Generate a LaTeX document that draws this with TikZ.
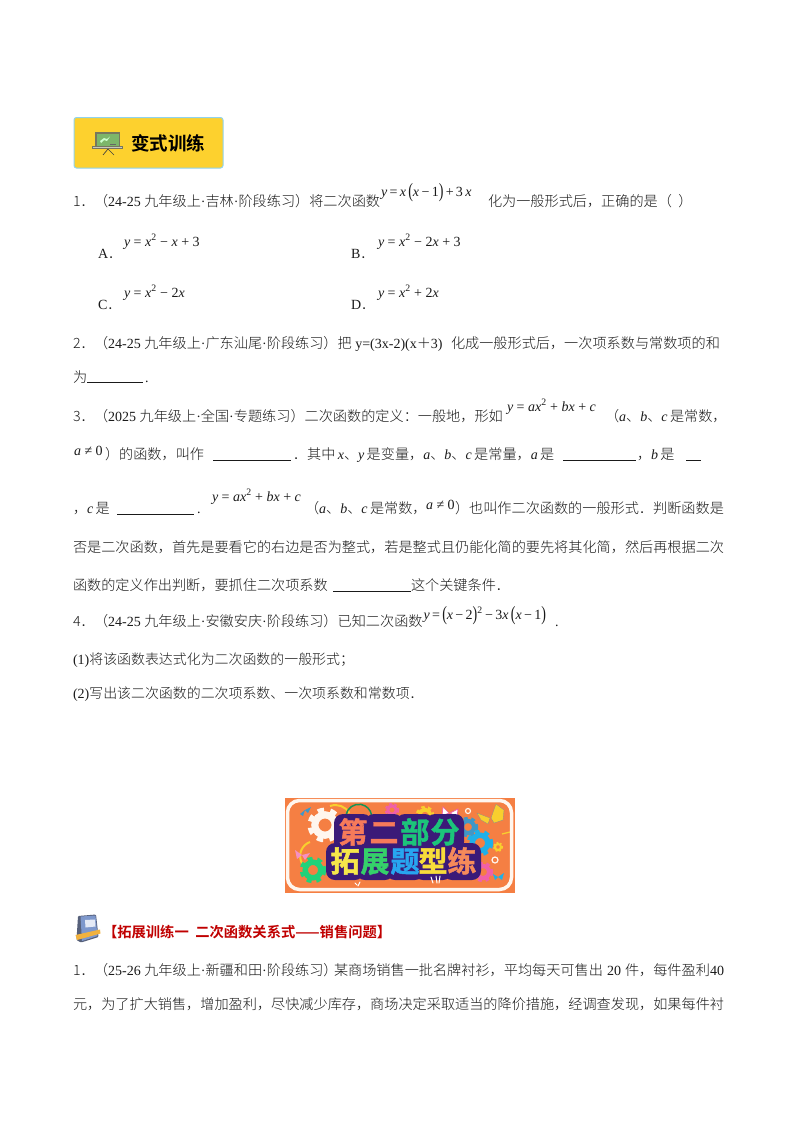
\documentclass[tikz,border=0pt]{standalone}
\usepackage{fontspec}
\setmainfont{Liberation Serif}
\newfontfamily\cjkf[Scale=1.011]{Noto Sans CJK SC Light}
\newfontfamily\cjkn[Scale=0.995]{Noto Sans CJK SC Light}
\newfontfamily\cjkb{Noto Sans CJK SC Bold}
\newfontfamily\cjkbb[FakeBold=1.6]{Noto Sans CJK SC Bold}
\newcommand{\cj}[1]{{\cjkf #1}}
\newcommand{\cn}[1]{{\cjkn #1}}
\newcommand{\vi}[1]{\textit{#1}}
\newcommand{\bigp}[1]{\raisebox{-1pt}{\scalebox{1}[1.45]{#1}}}
\definecolor{ink}{HTML}{1A1A1A}
\definecolor{headred}{HTML}{C00000}
\definecolor{bannerorange}{HTML}{F57F43}
\definecolor{bannerpurple}{HTML}{3B1A78}
\definecolor{badgeyellow}{HTML}{FDD12E}
\definecolor{badgeedge}{HTML}{8FD3EE}
\definecolor{gearwhite}{HTML}{FFF6EE}
\definecolor{geargreen}{HTML}{21D27A}
\definecolor{gearmag}{HTML}{F060A8}
\definecolor{gearyel}{HTML}{F8CF2E}
\definecolor{gearblue}{HTML}{1FB0E8}
\definecolor{gearslate}{HTML}{3F97C8}
\definecolor{bookblue}{HTML}{7E98CC}
\definecolor{bookdark}{HTML}{56607A}
\definecolor{bookband}{HTML}{F2B23E}
\definecolor{boardgreen}{HTML}{7DB66A}
\definecolor{boardedge}{HTML}{77775E}
\newcounter{tn}
\tikzset{
  txt/.style={anchor=base west,inner sep=0pt,outer sep=0pt,text=ink,font=\fontsize{14}{14}\selectfont},
  fml/.style={txt},
  gap/.style={draw=ink,line width=0.9pt},
  bannertxt/.style={inner sep=0pt,anchor=base,font=\cjkbb\fontsize{29}{29}\selectfont},
  blob/.style={fill=bannerpurple,rounded corners=9pt},
}
\newcommand{\T}[3]{\stepcounter{tn}\node[txt] (t\arabic{tn}) at (#1,#2) {#3};}
\newcommand{\F}[3]{\stepcounter{tn}\node[fml] (t\arabic{tn}) at (#1,#2) {#3};}
\newcommand{\U}[3]{\draw[gap] (#1,#3) -- (#2,#3);}
\newcommand{\B}[2]{\fill[blob] (#1-19,#2-29) rectangle (#1+19,#2+8);}
\newcommand{\C}[4]{\stepcounter{tn}\node[bannertxt,text=#3] (t\arabic{tn}) at (#1,#2) {#4};}
\newcommand{\gear}[4]{%
  \draw[#4,line width=0.42*#3pt] (#1,#2) circle (0.6*#3);
  \draw[#4,line width=0.25*#3pt,dash pattern=on 0.38*#3pt off 0.38*#3pt] (#1,#2) circle (0.9*#3);
}
\begin{document}
\begin{tikzpicture}[x=1pt,y=-1pt]
\useasboundingbox (0,0) rectangle (800,1132);
\fill[white] (0,0) rectangle (800,1132);

% header badge
\draw[draw=badgeedge,fill=badgeyellow,line width=1pt,rounded corners=2.5pt] (74,117.5) rectangle (223,168);
\fill[boardedge] (95,132) rectangle (120,147);
\fill[boardgreen] (96.5,133.5) rectangle (118.5,146);
\fill[white!80!green] (100,141) -- (104,138) -- (107,139) -- (110,136.5) -- (107,141) -- (104,140) -- (101,143) -- cycle;
\fill[black!60] (110,143.5) rectangle (116,144.5);
\fill[boardedge!40!white,draw=boardedge,line width=0.5pt] (92.5,146.5) rectangle (122,148.5);
\draw[black!75,line width=0.7pt] (108,149) -- (103,155) (108,149) -- (114,155);
\stepcounter{tn}\node[inner sep=0pt,anchor=base west,text=black,font=\cjkb\fontsize{18.5}{18.5}\selectfont] (t\arabic{tn}) at (131,150) {变式训练};

% question 1
\T{73}{206}{\cj{1．}}
\T{94}{206}{\cj{（}24-25 \cj{九年级上}·\cj{吉林}·\cj{阶段练习）将二次函数}}
\F{381}{196.5}{\vi{y}\,=\,\vi{x}\,\bigp{(}\vi{x}\,−\,1\bigp{)}\,+\,3\,\vi{x}}
\T{488}{206}{\cj{化为一般形式后，正确的是（\ \ ）}}
\T{98}{258}{A\cj{．}}
\F{124}{246}{\vi{y} = \vi{x}\textsuperscript{2} − \vi{x} + 3}
\T{351}{258}{B\cj{．}}
\F{378}{246}{\vi{y} = \vi{x}\textsuperscript{2} − 2\vi{x} + 3}
\T{98}{309}{C\cj{．}}
\F{124}{297}{\vi{y} = \vi{x}\textsuperscript{2} − 2\vi{x}}
\T{351}{309}{D\cj{．}}
\F{378}{297}{\vi{y} = \vi{x}\textsuperscript{2} + 2\vi{x}}

% question 2
\T{73}{348}{\cj{2．}}
\T{94}{348}{\cj{（}24-25 \cj{九年级上}·\cj{广东汕尾}·\cj{阶段练习）把} y=(3x-2)(x\cj{＋}3)}
\T{451}{348}{\cj{化成一般形式后，一次项系数与常数项的和}}
\T{73}{382}{\cj{为}}
\U{87}{143}{382.5}
\T{145}{382}{.}

% question 3
\T{73}{421}{\cj{3．}}
\T{94}{421}{\cj{（}2025 \cj{九年级上}·\cj{全国}·\cj{专题练习）二次函数的定义：一般地，形如}}
\F{507}{411}{\vi{y} = \vi{ax}\textsuperscript{2} + \vi{bx} + \vi{c}}
\T{605}{421}{\cj{（}\vi{a}\cj{、}\vi{b}\cj{、}\vi{c}\,\cj{是常数，}}
\F{74}{455}{\vi{a} ≠ 0}
\T{105}{459}{\cj{）的函数，叫作}}
\U{213}{291}{460}
\T{293}{459}{\cj{．其中}\,\vi{x}\cj{、}\vi{y}\,\cj{是变量，}\vi{a}\cj{、}\vi{b}\cj{、}\vi{c}\,\cj{是常量，}\vi{a}\,\cj{是}}
\U{563}{636}{460}
\T{637}{459}{\cj{，}\vi{b}\,\cj{是}}
\U{686}{701}{460}
\T{73}{513}{\cj{，}\vi{c}\,\cj{是}}
\U{117}{194}{514}
\T{197}{513}{.}
\F{212}{501}{\vi{y} = \vi{ax}\textsuperscript{2} + \vi{bx} + \vi{c}}
\T{305}{513}{\cj{（}\vi{a}\cj{、}\vi{b}\cj{、}\vi{c}\,\cj{是常数，}}
\F{426}{509}{\vi{a} ≠ 0}
\T{455}{513}{\cj{）也叫作二次函数的一般形式．判断函数是}}
\T{73}{552}{\cj{否是二次函数，首先是要看它的右边是否为整式，若是整式且仍能化简的要先将其化简，然后再根据二次}}
\T{73}{590}{\cj{函数的定义作出判断，要抓住二次项系数}}
\U{333}{411}{591}
\T{411}{590}{\cj{这个关键条件．}}

% question 4
\T{73}{626}{\cj{4．}}
\T{94}{626}{\cj{（}24-25 \cj{九年级上}·\cj{安徽安庆}·\cj{阶段练习）已知二次函数}}
\F{423.5}{619}{\vi{y}\,=\,\bigp{(}\vi{x}\,−\,2\bigp{)}\textsuperscript{2}\,−\,3\vi{x}\,\bigp{(}\vi{x}\,−\,1\bigp{)}}
\T{555}{626}{.}
\T{73}{664}{(1)\cn{将该函数表达式化为二次函数的一般形式；}}
\T{73}{698}{(2)\cn{写出该二次函数的二次项系数、一次项系数和常数项．}}

% banner
\fill[bannerorange] (285,798) rectangle (515,893);
\begin{scope}
\clip (285,798) rectangle (515,893);
\draw[gearyel,line width=2pt] (310,842) arc (250:120:15);
\draw[gearyel,line width=2pt] (330,806) arc (250:330:16);
\draw[geargreen!70!black,line width=1.5pt] (346,815) arc (190:350:13);
\gear{325}{825}{17}{gearwhite}
\gear{313}{870}{13}{geargreen}
\gear{392}{810}{7}{gearmag}
\gear{425}{815}{9}{gearyel}
\gear{468}{827}{10}{gearslate}
\gear{480}{843}{13}{gearblue}
\gear{498}{847}{5}{gearyel}
\gear{483}{872}{10}{gearmag}
\draw[gearwhite,line width=1.2pt] (495,860) circle (3);
\draw[gearwhite,line width=1.2pt] (468,811) circle (2.5);
\draw[gearyel,line width=1.3pt] (502,834) -- (510,832);
\fill[gearyel,draw=black!45,line width=0.3pt] (490,818) -- (477,813) -- (481,820) -- (488,824) -- cycle;
\fill[gearyel,draw=black!45,line width=0.3pt] (491,818) -- (496,804) -- (504,810) -- (503,820) -- (494,823) -- cycle;
\fill[white,draw=gearmag,line width=0.7pt] (449,813) -- (443,807) -- (442,816) -- cycle (450,813) -- (458,809) -- (457,817) -- cycle;
\fill[gearmag!70] (302,855) -- (295,850) -- (297,859) -- cycle (302,855) -- (310,853) -- (305,860) -- cycle;
\fill[gearslate] (305,810) -- (300,814) -- (303,816) -- cycle (305,810) -- (311,807) -- (308,813) -- cycle;
\fill[gearblue] (498,877) -- (493,874) -- (495,880) -- cycle (498,877) -- (504,873) -- (502,880) -- cycle;
\end{scope}
\draw[gearwhite,line width=3.5pt,rounded corners=12pt] (287.5,800.5) rectangle (511.5,889.5);
\B{353}{843}\B{384}{843}\B{415}{843}\B{445}{843}
\B{345}{872}\B{375}{872}\B{405}{872}\B{433}{872}\B{462}{872}
\draw[white,line width=1pt,line cap=round] (431,877) -- (433,883) (436,876) -- (437,883) (440,876) -- (439,883);
\draw[white,line width=1pt,line cap=round] (355,883) -- (357,885) (360,882) -- (358,886);
\C{353}{843}{{rgb,255:red,246;green,122;blue,90}}{第}
\C{384}{843}{{rgb,255:red,246;green,122;blue,90}}{二}
\C{415}{843}{{rgb,255:red,28;green,196;blue,122}}{部}
\C{445}{843}{{rgb,255:red,28;green,196;blue,122}}{分}
\C{345}{872}{{rgb,255:red,246;green,230;blue,74}}{拓}
\C{375}{872}{{rgb,255:red,53;green,208;blue,106}}{展}
\C{405}{872}{{rgb,255:red,39;green,166;blue,240}}{题}
\C{433}{872}{{rgb,255:red,248;green,220;blue,58}}{型}
\C{462}{872}{{rgb,255:red,245;green,138;blue,90}}{练}

% book icon
\fill[bookdark,rounded corners=1pt] (78,916) -- (96,914.5) -- (98.5,937) -- (81,942.5) -- (76.5,940) -- cycle;
\fill[bookblue] (80.5,916.5) -- (95.5,915.5) -- (97.5,936) -- (82,941) -- cycle;
\fill[white!80!bookblue] (85,920) -- (95,919.5) -- (95.5,926.5) -- (85.5,927.5) -- cycle;
\fill[bookband] (75.5,935) -- (100,929.5) -- (100.5,933.5) -- (77,940) -- cycle;

% section heading
\stepcounter{tn}\node[txt,text=headred,font=\cjkb\fontsize{14.3}{14.3}\selectfont] (t\arabic{tn}) at (103,937) {【拓展训练一\ \ 二次函数关系式——销售问题】};

\T{73}{975}{\cj{1．}}
\T{94}{975}{\cj{（}25-26 \cj{九年级上}·\cj{新疆和田}·\cj{阶段练习）}}
\T{334}{975}{\cj{某商场销售一批名牌衬衫，平均每天可售出}}
\T{607}{975}{20}
\T{625}{975}{\cj{件，每件盈利}}
\T{710}{975}{40}
\T{73}{1009}{\cj{元，为了扩大销售，增加盈利，尽快减少库存，商场决定采取适当的降价措施，经调查发现，如果每件衬}}
\end{tikzpicture}
\end{document}
